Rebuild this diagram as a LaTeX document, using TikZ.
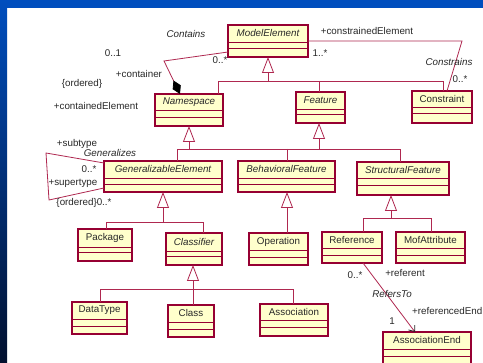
\documentclass[tikz,border=0pt]{standalone}
\usepackage{fontspec}
\setmainfont{Liberation Sans}
\usetikzlibrary{arrows.meta}

\definecolor{boxfill}{RGB}{255,255,204}
\definecolor{boxline}{RGB}{150,0,50}
\definecolor{wire}{RGB}{175,40,80}
\definecolor{ink}{RGB}{40,40,40}
\definecolor{slideblue}{RGB}{0,78,190}
\definecolor{slidenavy}{RGB}{2,16,46}

\tikzset{
  classbox/.style={draw=boxline, fill=boxfill, line width=1.1pt, inner sep=0pt, outer sep=0pt, rectangle},
  sep/.style={draw=boxline, line width=0.9pt},
  wireline/.style={draw=wire, line width=0.8pt},
  gen/.style={wireline, -{Triangle[open, length=16pt, width=12pt, fill=white]}},
  lbl/.style={text=ink, inner sep=0pt, font=\fontsize{9.8}{11}\selectfont},
  cname/.style={text=ink, inner sep=0pt, font=\fontsize{9.8}{11}\selectfont},
  cital/.style={cname, font=\fontsize{9.8}{11}\selectfont\itshape},
}

% class box: name, x1, y1, x2, y2, first separator, second separator, text style, text
\newcommand{\umlclass}[9]{%
  \node[classbox, anchor=north west, minimum width={(#4-#2)*1pt}, minimum height={(#5-#3)*1pt}] (#1) at (#2,#3) {};
  \draw[sep] (#2,#6) -- (#4,#6);
  \draw[sep] (#2,#7) -- (#4,#7);
  \node[#8] (#1-name) at ({(#2+#4)/2},{(#3+#6)/2}) {#9};
}

\begin{document}
\begin{tikzpicture}[x=1pt, y=-1pt]
\useasboundingbox (0,0) rectangle (483,363);
\clip (0,0) rectangle (483,363);

% slide frame
\fill[white] (0,0) rectangle (483,363);
\fill[slideblue] (0,0) rectangle (483,8);
\shade[top color=slideblue, bottom color=slidenavy] (0,0) rectangle (7,363);

% classes
\umlclass{ME}{228}{25}{308}{57}{42}{48}{cital}{ModelElement}
\umlclass{Namespace}{155}{94}{223}{126}{110}{117}{cital}{Namespace}
\umlclass{Feature}{296}{92}{345}{123}{109}{114}{cital}{Feature}
\umlclass{Constraint}{412}{91}{472}{123}{107}{113}{cname}{Constraint}
\umlclass{GE}{104}{161}{222}{192}{178}{184}{cital}{GeneralizableElement}
\umlclass{BF}{238}{161}{335}{192}{178}{184}{cital}{BehavioralFeature}
\umlclass{SF}{357}{162}{449}{195}{178}{185}{cital}{StructuralFeature}
\umlclass{Package}{78}{229}{132}{261}{247}{252}{cname}{Package}
\umlclass{Classifier}{166}{233}{222}{265}{251}{256}{cital}{Classifier}
\umlclass{Operation}{249}{233}{308}{265}{250}{257}{cname}{Operation}
\umlclass{Reference}{322}{232}{382}{263}{248}{255}{cname}{Reference}
\umlclass{MofAttribute}{396}{232}{465}{263}{248}{255}{cname}{MofAttribute}
\umlclass{DataType}{72}{302}{127}{334}{319}{326}{cname}{DataType}
\umlclass{Class}{168}{305}{214}{337}{322}{329}{cname}{Class}
\umlclass{Association}{260}{304}{328}{336}{320}{327}{cname}{Association}
\umlclass{AssocEnd}{383}{332}{471}{375}{349}{356}{cname}{AssociationEnd}

% generalization junctions
\coordinate (gME) at (268,81);
\coordinate (bNs) at (218,81);
\coordinate (bFe) at (319,81);
\coordinate (bCo) at (443,81);
\coordinate (gNs) at (189,149);
\coordinate (bGE) at (177,149);
\coordinate (bBF) at (287,149);
\coordinate (gFe) at (319,149);
\coordinate (bSF) at (400,149);
\coordinate (gGE) at (163,222);
\coordinate (bPk) at (106,222);
\coordinate (bCl) at (203,222);
\coordinate (gBF) at (287,233);
\coordinate (gCf) at (193,289);
\coordinate (bDt) at (100,289);
\coordinate (bAs) at (293,289);
\coordinate (gSF) at (391,218);
\coordinate (bRf) at (363,218);
\coordinate (bMa) at (431,218);

% ModelElement hierarchy
\draw[wireline] (bNs |- Namespace.north) -- (bNs) -- (bCo) -- (bCo |- Constraint.north);
\draw[wireline] (bFe) -- (bFe |- Feature.north);
\draw[gen] (gME) -- (ME.south);

% Namespace and Feature hierarchies
\draw[wireline] (bGE |- GE.north) -- (bGE) -- (bSF) -- (bSF |- SF.north);
\draw[wireline] (bBF) -- (bBF |- BF.north);
\draw[gen] (gNs) -- (Namespace.south);
\draw[gen] (gFe) -- (gFe |- Feature.south);

% GeneralizableElement hierarchy
\draw[wireline] (bPk |- Package.north) -- (bPk) -- (bCl) -- (bCl |- Classifier.north);
\draw[gen] (gGE) -- (GE.south);

% BehavioralFeature hierarchy
\draw[gen] (gBF) -- (gBF |- BF.south);

% Classifier hierarchy
\draw[wireline] (bDt |- DataType.north) -- (bDt) -- (bAs) -- (bAs |- Association.north);
\draw[wireline] (gCf) -- (gCf |- Class.north);
\draw[gen] (gCf) -- (gCf |- Classifier.south);

% StructuralFeature hierarchy
\draw[wireline] (bRf |- Reference.north) -- (bRf) -- (bMa) -- (bMa |- MofAttribute.north);
\draw[gen] (gSF) -- (gSF |- SF.south);

% Contains
\coordinate (cA) at (164,61);
\draw[wireline, -{Diamond[length=15pt, width=9pt, color=black, fill=black]}]
  ([yshift=5pt]ME.south west) -- (cA) -- ([xshift=-9pt]Namespace.north);

% Constrains
\coordinate (cB) at (462,41);
\draw[wireline] ([yshift=16pt]ME.south east) -- (cB) -- ([xshift=35pt]Constraint.north west);

% Generalizes
\coordinate (gA) at (46,153);
\coordinate (gB) at (49,200);
\draw[wireline] ([yshift=-2pt]GE.north west) -- (gA) -- (gB) -- ([yshift=4pt]GE.south west);

% RefersTo
\draw[wireline, -{Straight Barb[length=5pt, width=8pt, color=ink]}]
  ([xshift=41pt]Reference.south west) -- ([xshift=32pt]AssocEnd.north west);

% association labels
\node[lbl, font=\fontsize{9.8}{11}\selectfont\itshape] (tContains) at (186,34) {Contains};
\node[lbl] (tC01) at (113,53) {0..1};
\node[lbl] (tC0s) at (220,60) {0..*};
\node[lbl] (tContainer) at (139,74) {+container};
\node[lbl] (tOrd1) at (82,84) {\{ordered\}};
\node[lbl] (tContained) at (96,106) {+containedElement};
\node[lbl] (tK1s) at (320,53) {1..*};
\node[lbl] (tConstrained) at (367,31) {+constrainedElement};
\node[lbl, font=\fontsize{9.8}{11}\selectfont\itshape] (tConstrains) at (449,62) {Constrains};
\node[lbl] (tK0s) at (460,79) {0..*};
\node[lbl] (tSub) at (77,144) {+subtype};
\node[lbl, font=\fontsize{9.8}{11}\selectfont\itshape] (tGen) at (110,153) {Generalizes};
\node[lbl] (tG0s) at (89,169) {0..*};
\node[lbl] (tSuper) at (73,183) {+supertype};
\node[lbl] (tOrd2) at (84,203) {\{ordered\}0..*};
\node[lbl] (tR0s) at (355,275) {0..*};
\node[lbl] (tReferent) at (405,273) {+referent};
\node[lbl, font=\fontsize{9.8}{11}\selectfont\itshape] (tRefersTo) at (392,294) {RefersTo};
\node[lbl, anchor=west] (tRefEnd) at (412,311) {+referencedEnd};
\node[lbl] (tR1) at (392,321) {1};
\end{tikzpicture}
\end{document}
